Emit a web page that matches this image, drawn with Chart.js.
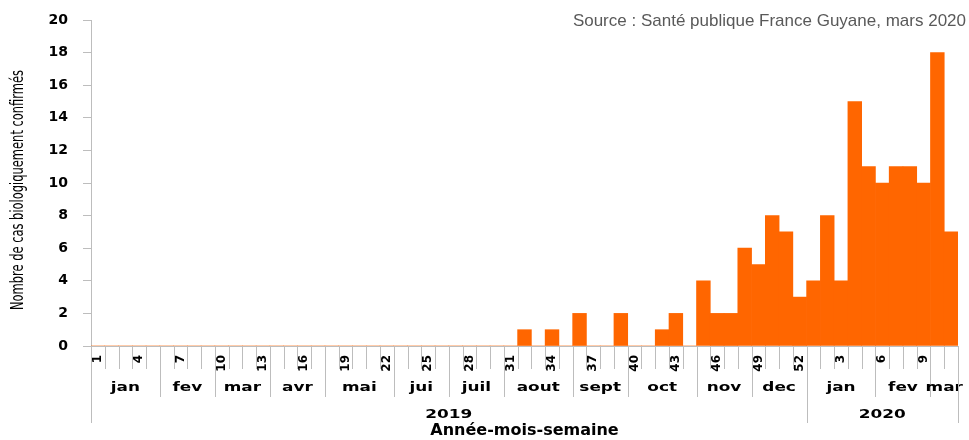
<!DOCTYPE html>
<html>
<head>
<meta charset="utf-8">
<script src="https://cdn.jsdelivr.net/npm/chart.js@4/dist/chart.umd.min.js"></script>
<style>
  html, body { margin: 0; padding: 0; background: #fff; }
  #wrap { width: 969px; height: 440px; }
</style>
</head>
<body>
<div id="wrap"><canvas id="chart" width="969" height="440"></canvas></div>
<script>
// Cas biologiquement confirmés par semaine, Guyane, 2019 - mars 2020

// week numbers (2019: 1-52, 2020: 1-11)
const weeks = [
  1, 2, 3, 4, 5, 6, 7, 8, 9, 10, 11, 12, 13, 14, 15, 16, 17, 18, 19, 20,
  21, 22, 23, 24, 25, 26, 27, 28, 29, 30, 31, 32, 33, 34, 35, 36, 37, 38, 39, 40,
  41, 42, 43, 44, 45, 46, 47, 48, 49, 50, 51, 52,
  1, 2, 3, 4, 5, 6, 7, 8, 9, 10, 11
];

// confirmed cases per week
const cases = [
  0, 0, 0, 0, 0, 0, 0, 0, 0, 0, 0, 0, 0, 0, 0, 0, 0, 0, 0, 0,
  0, 0, 0, 0, 0, 0, 0, 0, 0, 0, 0, 1, 0, 1, 0, 2, 0, 0, 2, 0,
  0, 1, 2, 0, 4, 2, 2, 6, 5, 8, 7, 3,
  4, 8, 4, 15, 11, 10, 11, 11, 10, 18, 7
];

// second level: months and number of weeks in each
const months = ['jan', 'fev', 'mar', 'avr', 'mai', 'jui', 'juil', 'aout', 'sept', 'oct', 'nov', 'dec', 'jan', 'fev', 'mar'];
const monthWeeks = [5, 4, 4, 4, 5, 4, 4, 5, 4, 5, 4, 4, 5, 4, 2];

// third level: years
const years = ['2019', '2020'];
const yearWeeks = [52, 11];

const yTicks = [0, 2, 4, 6, 8, 10, 12, 14, 16, 18, 20];

const yTitle = 'Nombre de cas biologiquement confirmés';
const lineGrey = '#bdbdbd';
const boldFont = 'DejaVu Sans';

// the original picture is a bit stretched sideways
function scaledText(ctx, text, cx, cy, sx, sy, rot) {
  ctx.save();
  ctx.translate(cx, cy);
  if (rot) ctx.rotate(rot);
  ctx.scale(sx, sy);
  ctx.fillText(text, 0, 0);
  ctx.restore();
}

// draws the month / year rows under the week labels, the y title and the source
const groupAxis = {
  id: 'groupAxis',
  afterDraw(chart) {
    const ctx = chart.ctx;
    const x = chart.scales.x;
    const area = chart.chartArea;
    const base = area.bottom;
    const half = (x.getPixelForValue(1) - x.getPixelForValue(0)) / 2;
    const edge = i => (i < weeks.length ? x.getPixelForValue(i) - half : x.getPixelForValue(weeks.length - 1) + half);
    const vline = (i, len) => {
      const px = Math.round(edge(i)) + 0.5;
      ctx.beginPath();
      ctx.moveTo(px, base);
      ctx.lineTo(px, base + len);
      ctx.stroke();
    };

    ctx.save();
    ctx.strokeStyle = lineGrey;
    ctx.lineWidth = 1;

    // week separators
    for (let i = 0; i <= weeks.length; i++) vline(i, 23);

    // months
    ctx.fillStyle = '#000';
    ctx.font = 'bold 13px ' + boldFont;
    ctx.textAlign = 'center';
    ctx.textBaseline = 'middle';
    let start = 0;
    months.forEach((m, k) => {
      const end = start + monthWeeks[k];
      vline(start, 51);
      vline(end, 51);
      scaledText(ctx, m, (edge(start) + edge(end)) / 2, base + 42, 1.3, 1);
      start = end;
    });

    // years
    start = 0;
    years.forEach((y, k) => {
      const end = start + yearWeeks[k];
      vline(start, 77);
      vline(end, 77);
      scaledText(ctx, y, (edge(start) + edge(end)) / 2, base + 69, 1.3, 1);
      start = end;
    });

    // y axis title, condensed
    ctx.font = '17px "Liberation Sans Narrow", "DejaVu Sans Condensed", sans-serif';
    scaledText(ctx, yTitle, 19, (area.top + area.bottom) / 2 + 7, 0.75, 1, -Math.PI / 2);

    // source
    ctx.fillStyle = '#595959';
    ctx.font = '17px "Liberation Sans", Arial, sans-serif';
    ctx.textAlign = 'right';
    ctx.fillText('Source : Santé publique France Guyane, mars 2020', chart.width - 3, 21);
    ctx.restore();
  }
};

new Chart(document.getElementById('chart').getContext('2d'), {
  type: 'bar',
  data: {
    labels: weeks,
    datasets: [{
      label: 'Cas confirmés',
      data: cases,
      backgroundColor: '#ff6600',
      borderWidth: 0,
      barPercentage: 1,
      categoryPercentage: 1
    }]
  },
  options: {
    responsive: false,
    animation: false,
    layout: { padding: { top: 20, right: 11, left: 0, bottom: 0 } },
    plugins: {
      legend: { display: false },
      tooltip: { enabled: false }
    },
    scales: {
      x: {
        afterFit: s => {
          s.height = 94;
          s.paddingLeft = 0;
          s.paddingRight = 0;
        },
        grid: { display: false, drawTicks: false },
        border: { display: true, color: lineGrey },
        ticks: {
          autoSkip: false,
          minRotation: 90,
          maxRotation: 90,
          padding: 9,
          color: '#000',
          font: { family: boldFont, size: 12, weight: 'bold' },
          callback: (v, i) => (i % 3 === 0 ? String(weeks[i]) : '')
        },
        title: {
          display: true,
          text: 'Année-mois-semaine',
          color: '#000',
          padding: 0,
          font: { family: boldFont, size: 16, weight: 'bold' }
        }
      },
      y: {
        min: 0,
        max: 20,
        afterFit: s => {
          s.width = 91;
          s.paddingTop = 0;
          s.paddingBottom = 0;
        },
        afterBuildTicks: s => { s.ticks = yTicks.map(v => ({ value: v })); },
        grid: { drawOnChartArea: false, tickLength: 8, color: lineGrey },
        border: { color: lineGrey },
        ticks: {
          padding: 15,
          color: '#000',
          font: { family: boldFont, size: 14, weight: 'bold' }
        }
      }
    }
  },
  plugins: [groupAxis]
});
</script>
</body>
</html>
